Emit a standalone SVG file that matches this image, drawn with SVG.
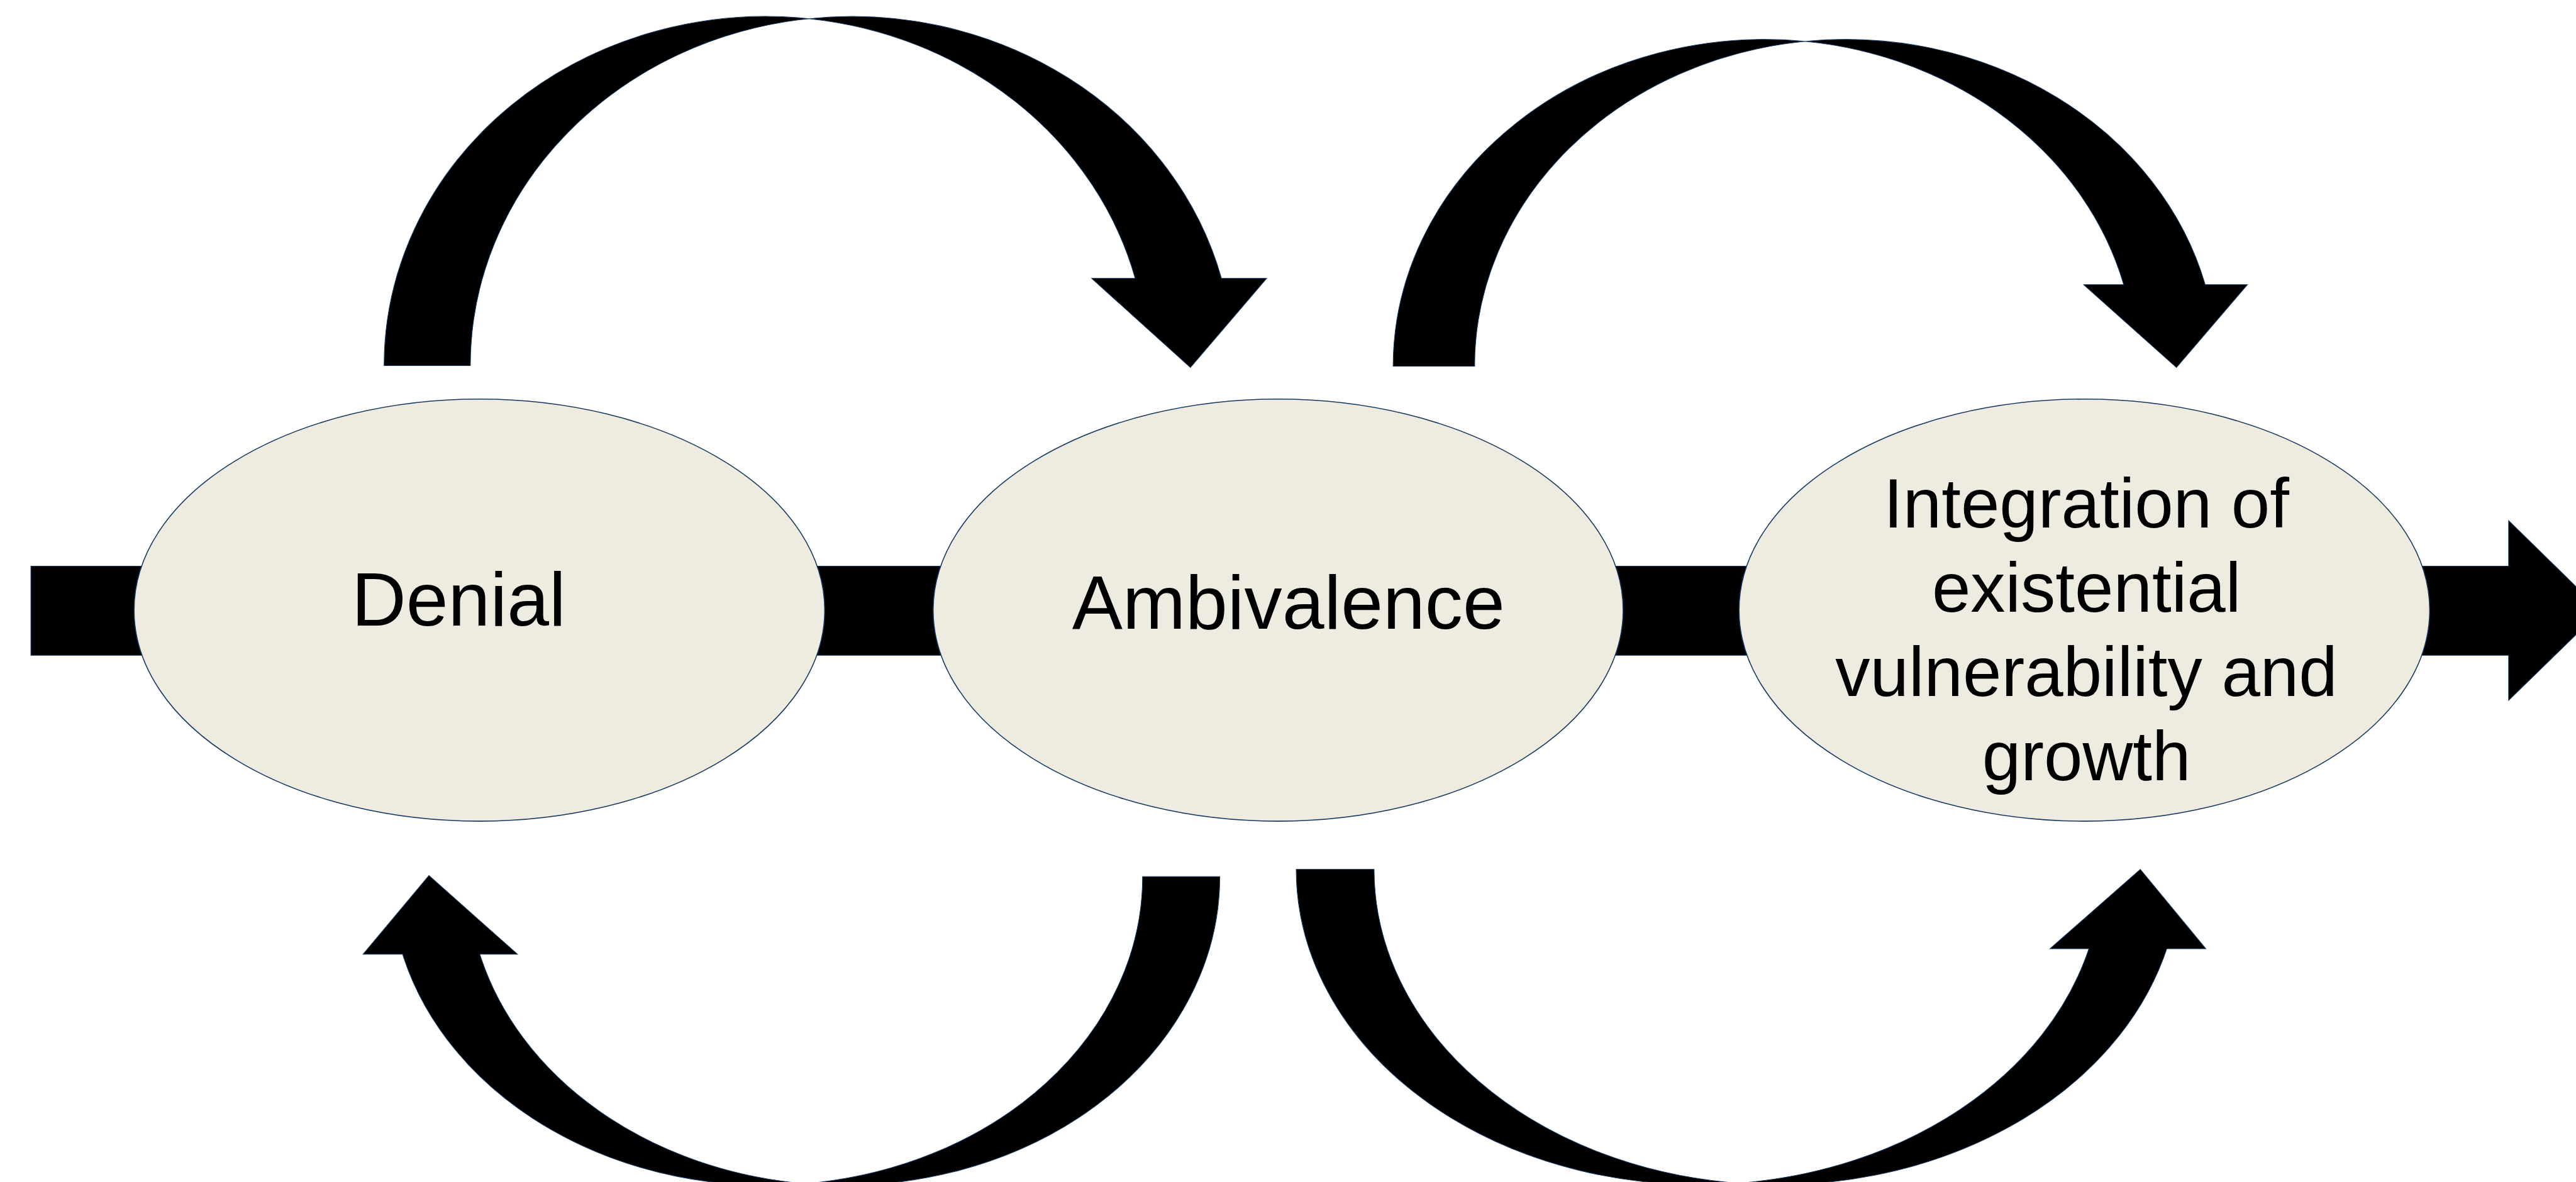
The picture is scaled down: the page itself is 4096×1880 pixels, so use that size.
<svg xmlns="http://www.w3.org/2000/svg" width="4096" height="1880" viewBox="0 0 4096 1880">
<style>
.node ellipse{fill:#EEECE1;stroke:#17375E;stroke-width:0.6}
.lbl{font-family:"Liberation Sans",Arial,sans-serif;fill:#000;text-anchor:middle}
.big{font-size:46px}
.small{font-size:42.3px}
.arrow{fill:#000;stroke:#12375f;stroke-width:0.4;stroke-linejoin:miter}
</style>
<rect width="4096" height="1880" fill="#ffffff"/>
<g transform="scale(2.61224)">
  <g id="connectors">
    <path id="main-arrow" class="arrow" d="M 18.8 344.7 H 1527 V 317 L 1583 371.8 L 1527 426.5 V 399 H 18.8 Z"/>
    <path id="arc-denial-ambivalence" class="arrow" d="M 233.8 222.6 A 232.3 212.6 0 0 1 492.35 11.36 A 232.3 212.6 0 0 1 743.5 169.5 L 771 169.5 L 724.6 223.8 L 664.5 169.5 L 691 169.5 A 232.3 212.6 0 0 0 492.35 11.36 A 232.3 212.6 0 0 0 286.3 222.6 Z"/>
    <path id="arc-ambivalence-integration" class="arrow" d="M 848 223 A 225.93 199 0 0 1 1098.73 25.2 A 225.93 199 0 0 1 1342.3 173.3 L 1368 173.3 L 1324.8 223.8 L 1268.3 173.3 L 1292.7 173.3 A 225.93 199 0 0 0 1098.73 25.2 A 225.93 199 0 0 0 897.6 223 Z"/>
    <path id="arc-ambivalence-denial" class="arrow" d="M 742.5 533.7 A 228.9 188 0 0 1 490.1 720.71 A 228.9 188 0 0 1 245.06 581 L 221 581 L 261.1 533.1 L 315 581 L 292.06 581 A 228.9 188 0 0 0 490.1 720.71 A 228.9 188 0 0 0 695.5 533.7 Z"/>
    <path id="arc-ambivalence-integration-low" class="arrow" d="M 789 529.3 A 245.2 192 0 0 0 1057.9 720.4 A 245.2 192 0 0 0 1318.88 577.7 L 1342.7 577.7 L 1302.8 529.3 L 1247.8 577.7 L 1271.48 577.7 A 245.2 192 0 0 1 1057.9 720.4 A 245.2 192 0 0 1 836.4 529.3 Z"/>
  </g>
  <g id="node-denial" class="node">
    <ellipse cx="291.8" cy="371.5" rx="210.2" ry="128.5"/>
    <text class="lbl big" x="279.2" y="381">Denial</text>
  </g>
  <g id="node-ambivalence" class="node">
    <ellipse cx="778" cy="371.5" rx="210" ry="128.5"/>
    <text class="lbl big" x="784.3" y="383">Ambivalence</text>
  </g>
  <g id="node-integration" class="node">
    <ellipse cx="1268.75" cy="371.5" rx="210.2" ry="128.5"/>
    <text class="lbl small" x="1270" y="321">Integration of</text>
    <text class="lbl small" x="1270" y="372.4">existential</text>
    <text class="lbl small" x="1270" y="423.8">vulnerability and</text>
    <text class="lbl small" x="1270" y="475.2">growth</text>
  </g>
</g>
</svg>
